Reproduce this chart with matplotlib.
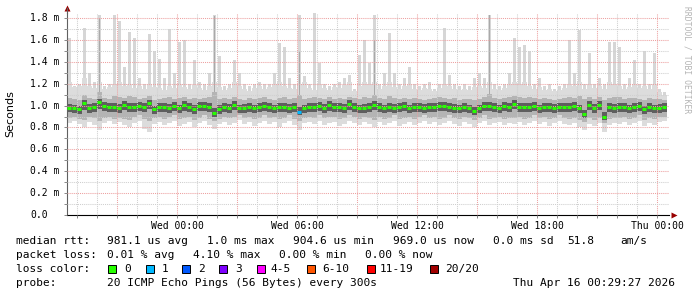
import numpy as np
import matplotlib
matplotlib.use("Agg")
import matplotlib.pyplot as plt
from matplotlib.patches import Rectangle
from matplotlib.transforms import blended_transform_factory

# 15 minute bins, hours relative to Wed 00:00
t_start = -5.5
bin_h = 0.25

median = [0.98, 0.975, 0.965, 1.02, 0.98, 0.985, 1.03, 1.00, 0.99, 0.985,
          0.98, 1.01, 0.985, 0.99, 1.00, 0.985, 1.025, 0.965, 0.985, 0.99,
          0.98, 1.00, 0.975, 1.005, 0.99, 0.97, 0.995, 1.00, 0.985, 0.935,
          0.97, 0.99, 0.98, 1.01, 0.975, 0.98, 0.99, 0.975, 0.985, 1.00,
          0.985, 0.975, 0.99, 0.985, 0.98, 0.99, 0.945, 0.975, 0.985, 0.99,
          1.00, 0.98, 1.005, 0.985, 0.99, 0.98, 1.015, 0.99, 0.975, 0.98,
          0.985, 1.01, 0.99, 0.975, 0.985, 0.98, 0.99, 0.995, 0.975, 0.985,
          0.99, 0.98, 0.985, 0.99, 1.00, 0.995, 0.985, 0.98, 0.975, 0.985,
          0.975, 0.95, 0.975, 0.995, 1.00, 0.985, 0.975, 1.00, 0.99, 1.015,
          0.985, 0.99, 0.985, 1.00, 0.975, 0.985, 0.99, 0.98, 0.99, 0.985,
          0.99, 1.00, 0.975, 0.92, 1.01, 0.98, 1.01, 0.90, 0.985, 0.98,
          0.99, 0.985, 0.975, 0.99, 1.00, 0.965, 0.985, 0.975, 0.98, 0.985]

loss = [0] * 120
loss[46] = 1

smoke_min = [0.84, 0.86, 0.83, 0.80, 0.85, 0.82, 0.78, 0.84, 0.86, 0.83,
             0.85, 0.82, 0.80, 0.84, 0.86, 0.79, 0.76, 0.83, 0.85, 0.82,
             0.84, 0.86, 0.81, 0.83, 0.85, 0.80, 0.84, 0.86, 0.82, 0.79,
             0.83, 0.85, 0.82, 0.84, 0.87, 0.83, 0.85, 0.81, 0.84, 0.86,
             0.83, 0.85, 0.80, 0.84, 0.86, 0.82, 0.78, 0.84, 0.85, 0.83,
             0.86, 0.82, 0.84, 0.85, 0.81, 0.83, 0.86, 0.84, 0.82, 0.85,
             0.83, 0.80, 0.85, 0.82, 0.84, 0.86, 0.81, 0.83, 0.85, 0.82,
             0.84, 0.86, 0.83, 0.85, 0.82, 0.84, 0.86, 0.83, 0.81, 0.85,
             0.83, 0.80, 0.84, 0.86, 0.82, 0.84, 0.85, 0.82, 0.84, 0.83,
             0.85, 0.82, 0.84, 0.86, 0.83, 0.85, 0.81, 0.84, 0.86, 0.83,
             0.82, 0.84, 0.80, 0.78, 0.83, 0.81, 0.84, 0.76, 0.82, 0.84,
             0.83, 0.85, 0.82, 0.84, 0.86, 0.81, 0.84, 0.82, 0.85, 0.86]

q10 = [0.89, 0.90, 0.88, 0.87, 0.90, 0.89, 0.86, 0.89, 0.90, 0.88,
       0.89, 0.88, 0.87, 0.90, 0.91, 0.88, 0.86, 0.89, 0.90, 0.88,
       0.90, 0.91, 0.88, 0.89, 0.90, 0.87, 0.89, 0.91, 0.88, 0.86,
       0.88, 0.90, 0.89, 0.90, 0.91, 0.89, 0.90, 0.88, 0.89, 0.91,
       0.89, 0.90, 0.88, 0.89, 0.91, 0.88, 0.86, 0.89, 0.90, 0.89,
       0.91, 0.89, 0.90, 0.90, 0.88, 0.89, 0.91, 0.90, 0.88, 0.90,
       0.89, 0.87, 0.90, 0.88, 0.89, 0.91, 0.88, 0.89, 0.90, 0.88,
       0.90, 0.91, 0.89, 0.90, 0.88, 0.89, 0.91, 0.89, 0.88, 0.90,
       0.89, 0.87, 0.89, 0.91, 0.88, 0.89, 0.90, 0.88, 0.89, 0.89,
       0.90, 0.88, 0.89, 0.91, 0.89, 0.90, 0.88, 0.89, 0.91, 0.89,
       0.88, 0.89, 0.87, 0.85, 0.89, 0.87, 0.89, 0.84, 0.88, 0.89,
       0.89, 0.90, 0.88, 0.89, 0.91, 0.87, 0.89, 0.88, 0.90, 0.90]

q25 = [0.94, 0.93, 0.925, 0.96, 0.935, 0.94, 0.97, 0.955, 0.945, 0.94,
       0.935, 0.96, 0.94, 0.945, 0.955, 0.94, 0.965, 0.92, 0.94, 0.945,
       0.935, 0.955, 0.93, 0.955, 0.945, 0.925, 0.95, 0.955, 0.94, 0.90,
       0.925, 0.945, 0.935, 0.96, 0.93, 0.935, 0.945, 0.93, 0.94, 0.955,
       0.94, 0.93, 0.945, 0.94, 0.935, 0.945, 0.91, 0.93, 0.94, 0.945,
       0.955, 0.935, 0.955, 0.94, 0.945, 0.935, 0.96, 0.945, 0.93, 0.935,
       0.94, 0.96, 0.945, 0.93, 0.94, 0.935, 0.945, 0.95, 0.93, 0.94,
       0.945, 0.935, 0.94, 0.945, 0.955, 0.95, 0.94, 0.935, 0.93, 0.94,
       0.93, 0.91, 0.93, 0.95, 0.955, 0.94, 0.93, 0.955, 0.945, 0.965,
       0.94, 0.945, 0.94, 0.955, 0.93, 0.94, 0.945, 0.935, 0.945, 0.94,
       0.945, 0.955, 0.93, 0.89, 0.96, 0.935, 0.96, 0.87, 0.94, 0.935,
       0.945, 0.94, 0.93, 0.945, 0.955, 0.92, 0.94, 0.93, 0.935, 0.94]

q75 = [1.015, 1.01, 1.00, 1.05, 1.015, 1.02, 1.06, 1.035, 1.025, 1.02,
       1.015, 1.045, 1.02, 1.025, 1.035, 1.02, 1.055, 1.00, 1.02, 1.025,
       1.015, 1.035, 1.01, 1.04, 1.025, 1.005, 1.03, 1.035, 1.02, 0.98,
       1.005, 1.025, 1.015, 1.045, 1.01, 1.015, 1.025, 1.01, 1.02, 1.035,
       1.02, 1.01, 1.025, 1.02, 1.015, 1.025, 0.99, 1.01, 1.02, 1.025,
       1.035, 1.015, 1.04, 1.02, 1.025, 1.015, 1.05, 1.025, 1.01, 1.015,
       1.02, 1.045, 1.025, 1.01, 1.02, 1.015, 1.025, 1.03, 1.01, 1.02,
       1.025, 1.015, 1.02, 1.025, 1.035, 1.03, 1.02, 1.015, 1.01, 1.02,
       1.01, 0.99, 1.01, 1.03, 1.035, 1.02, 1.01, 1.035, 1.025, 1.05,
       1.02, 1.025, 1.02, 1.035, 1.01, 1.02, 1.025, 1.015, 1.025, 1.02,
       1.025, 1.035, 1.01, 0.96, 1.045, 1.015, 1.045, 0.94, 1.02, 1.015,
       1.025, 1.02, 1.01, 1.025, 1.035, 1.00, 1.02, 1.01, 1.015, 1.02]

q90 = [1.07, 1.06, 1.05, 1.10, 1.07, 1.06, 1.12, 1.07, 1.06, 1.09,
       1.08, 1.07, 1.09, 1.08, 1.06, 1.07, 1.09, 1.05, 1.06, 1.07,
       1.08, 1.06, 1.07, 1.08, 1.06, 1.07, 1.06, 1.07, 1.08, 1.12,
       1.06, 1.07, 1.06, 1.08, 1.06, 1.05, 1.07, 1.06, 1.07, 1.08,
       1.06, 1.05, 1.07, 1.08, 1.06, 1.07, 1.10, 1.06, 1.07, 1.08,
       1.07, 1.06, 1.08, 1.06, 1.07, 1.06, 1.08, 1.07, 1.06, 1.08,
       1.07, 1.10, 1.07, 1.06, 1.09, 1.07, 1.06, 1.07, 1.06, 1.07,
       1.06, 1.05, 1.06, 1.07, 1.08, 1.07, 1.06, 1.07, 1.05, 1.06,
       1.06, 1.05, 1.06, 1.08, 1.11, 1.07, 1.06, 1.07, 1.08, 1.09,
       1.08, 1.07, 1.08, 1.07, 1.06, 1.07, 1.06, 1.05, 1.06, 1.07,
       1.08, 1.07, 1.09, 1.06, 1.08, 1.06, 1.08, 1.05, 1.07, 1.08,
       1.08, 1.06, 1.07, 1.07, 1.06, 1.05, 1.07, 1.06, 1.06, 1.05]

smoke_top = [1.22, 1.17, 1.18, 1.25, 1.18, 1.16, 1.22, 1.15, 1.17, 1.20,
             1.22, 1.18, 1.20, 1.16, 1.18, 1.15, 1.20, 1.17, 1.16, 1.14,
             1.18, 1.16, 1.20, 1.17, 1.15, 1.19, 1.16, 1.14, 1.18, 1.22,
             1.17, 1.14, 1.16, 1.22, 1.18, 1.15, 1.13, 1.16, 1.18, 1.15,
             1.17, 1.20, 1.22, 1.18, 1.16, 1.15, 1.20, 1.22, 1.16, 1.14,
             1.20, 1.16, 1.14, 1.17, 1.16, 1.19, 1.22, 1.13, 1.18, 1.22,
             1.20, 1.22, 1.15, 1.18, 1.22, 1.17, 1.15, 1.18, 1.20, 1.15,
             1.14, 1.16, 1.15, 1.13, 1.16, 1.20, 1.18, 1.15, 1.14, 1.15,
             1.14, 1.17, 1.18, 1.16, 1.22, 1.15, 1.14, 1.16, 1.20, 1.22,
             1.20, 1.22, 1.18, 1.15, 1.17, 1.14, 1.15, 1.13, 1.14, 1.16,
             1.20, 1.18, 1.22, 1.15, 1.20, 1.16, 1.18, 1.15, 1.22, 1.20,
             1.18, 1.15, 1.17, 1.20, 1.16, 1.18, 1.15, 1.20, 1.12, 1.10]

smoke_max = [1.62, 1.18, 1.20, 1.71, 1.30, 1.22, 1.83, 1.18, 1.20, 1.83,
             1.77, 1.35, 1.67, 1.62, 1.25, 1.20, 1.65, 1.50, 1.43, 1.25,
             1.70, 1.30, 1.58, 1.60, 1.20, 1.42, 1.22, 1.20, 1.30, 1.83,
             1.45, 1.18, 1.20, 1.42, 1.30, 1.20, 1.18, 1.20, 1.22, 1.20,
             1.20, 1.30, 1.57, 1.54, 1.25, 1.20, 1.83, 1.27, 1.20, 1.85,
             1.39, 1.20, 1.18, 1.20, 1.22, 1.25, 1.28, 1.15, 1.46, 1.60,
             1.39, 1.83, 1.20, 1.30, 1.66, 1.30, 1.20, 1.25, 1.35, 1.20,
             1.18, 1.20, 1.22, 1.15, 1.20, 1.71, 1.28, 1.20, 1.18, 1.20,
             1.18, 1.25, 1.30, 1.25, 1.83, 1.20, 1.18, 1.20, 1.30, 1.62,
             1.54, 1.55, 1.50, 1.20, 1.25, 1.18, 1.20, 1.15, 1.18, 1.20,
             1.60, 1.30, 1.69, 1.20, 1.48, 1.20, 1.25, 1.20, 1.58, 1.58,
             1.54, 1.20, 1.25, 1.42, 1.20, 1.50, 1.20, 1.48, 1.15, 1.12]

# spikes where several pings were slow (darker smoke)
dark_spike_bins = [6, 29, 46, 61, 84]
dark_spike_top = [1.80, 1.82, 1.50, 1.60, 1.83]

y_ticks = [0.0, 0.2, 0.4, 0.6, 0.8, 1.0, 1.2, 1.4, 1.6, 1.8]
y_tick_labels = ["0.0", "0.2 m", "0.4 m", "0.6 m", "0.8 m", "1.0 m",
                 "1.2 m", "1.4 m", "1.6 m", "1.8 m"]
x_label_hours = [0, 6, 12, 18, 24]
x_tick_labels = ["Wed 00:00", "Wed 06:00", "Wed 12:00", "Wed 18:00", "Thu 00:00"]

loss_names = ["0", "1", "2", "3", "4-5", "6-10", "11-19", "20/20"]
loss_colors = ["#26ff00", "#00b8ff", "#0059ff", "#7e00ff",
               "#ff00ff", "#ff5500", "#ff0000", "#a10000"]

rtt_line = [(16, "median rtt:"), (107, "981.1 us avg"), (207, "1.0 ms max"),
            (293, "904.6 us min"), (393, "969.0 us now"), (493, "0.0 ms sd"),
            (567, "51.8"), (620, "am/s")]
loss_line = [(16, "packet loss:"), (107, "0.01 % avg"), (193, "4.10 % max"),
             (279, "0.00 % min"), (365, "0.00 % now")]
probe_line = [(16, "probe:"), (107, "20 ICMP Echo Pings (56 Bytes) every 300s"),
              (513, "Thu Apr 16 00:29:27 2026")]
square_x = [108, 146, 182, 219, 257, 307, 367, 430]
label_x = [124, 162, 198, 235, 270, 322, 380, 445]

W, H = 697, 297
mono = "DejaVu Sans Mono"

fig = plt.figure(figsize=(W / 100, H / 100), dpi=100)
fig.patch.set_facecolor("white")
ax = fig.add_axes([67 / W, (H - 215) / H, (669 - 67) / W, (215 - 12.6) / H])

n = len(median)
edges = t_start + bin_h * np.arange(n + 1)
centers = edges[:-1] + bin_h / 2

# smoke
ax.stairs(smoke_top, edges, baseline=smoke_min, fill=True, color="#dcdcdc", lw=0)
ax.bar(centers, np.array(smoke_max) - np.array(smoke_top), bottom=smoke_top,
       width=0.11, color="#d6d6d6", lw=0)
ax.bar(centers[dark_spike_bins],
       np.array(dark_spike_top) - np.array(q90)[dark_spike_bins],
       bottom=np.array(q90)[dark_spike_bins], width=0.08, color="#a9a9a9", lw=0)
ax.stairs(q90, edges, baseline=q10, fill=True, color="#b4b4b4", lw=0)
ax.stairs(q75, edges, baseline=q25, fill=True, color="#5e5e5e", lw=0)

# median, coloured by loss, short pieces like the rrd steps
ax.hlines(median, edges[:-1] + 0.02, edges[1:] - 0.03,
          colors=[loss_colors[l] for l in loss], lw=2.2, zorder=4)

ax.set_xlim(-5.5, 24.6)
ax.set_ylim(0, 1.85)

ax.set_yticks(y_ticks)
ax.set_yticks(np.arange(0.1, 1.85, 0.2), minor=True)
ax.set_yticklabels([])
ax.set_xticks(np.arange(-3, 25, 3))
ax.set_xticks(np.arange(-5, 25, 1), minor=True)
ax.set_xticklabels([x_tick_labels[x_label_hours.index(h)] if h in x_label_hours else ""
                    for h in np.arange(-3, 25, 3)], family=mono, fontsize=7)
ax.tick_params(axis="both", which="both", length=2, width=0.7, color="#888888")
ax.tick_params(axis="x", pad=2.5)

ax.set_axisbelow(False)
ax.grid(which="minor", color="#cfcfcf", lw=0.75, ls=(0, (1, 1)))
ax.grid(which="major", color="#eda0a0", lw=0.75, ls=(0, (1, 1)))

for s in ["top", "right"]:
    ax.spines[s].set_visible(False)
ax.spines["left"].set_color("#606060")
ax.spines["bottom"].set_color("black")
ax.spines["left"].set_linewidth(0.8)
ax.spines["bottom"].set_linewidth(0.8)
ax.plot([-5.5], [1.89], marker="^", ms=4, color="#990000", clip_on=False, mec="none")
ax.plot([24.85], [0], marker=">", ms=4, color="#990000", clip_on=False, mec="none")
ax.plot([-5.5, -5.5], [1.85, 1.89], color="#606060", lw=0.8, clip_on=False)

ytrans = blended_transform_factory(fig.transFigure, ax.transData)
for v, lab in zip(y_ticks, y_tick_labels):
    ax.text(30 / W, v, lab, transform=ytrans, family=mono, fontsize=7,
            ha="left", va="center")

fig.text(10 / W, 1 - 114 / H, "Seconds", rotation=90, fontsize=8,
         family="DejaVu Sans", ha="center", va="center")
fig.text(687 / W, 1 - 60 / H, "RRDTOOL / TOBI OETIKER", rotation=270,
         fontsize=5.8, family=mono, color="#b4b4b4", ha="center", va="center")

def put_line(items, y):
    for x, s in items:
        fig.text(x / W, 1 - y / H, s, family=mono, fontsize=8, ha="left", va="center")

put_line(rtt_line, 241)
put_line(loss_line, 255)
put_line([(16, "loss color:")], 269)
for sx, lx, name, col in zip(square_x, label_x, loss_names, loss_colors):
    fig.add_artist(Rectangle((sx / W, 1 - 273 / H), 8 / W, 8 / H,
                             transform=fig.transFigure, facecolor=col,
                             edgecolor="black", lw=0.7))
    fig.text(lx / W, 1 - 269 / H, name, family=mono, fontsize=8, ha="left", va="center")
put_line(probe_line, 283)

fig.savefig("out.png", dpi=100, facecolor="white")
